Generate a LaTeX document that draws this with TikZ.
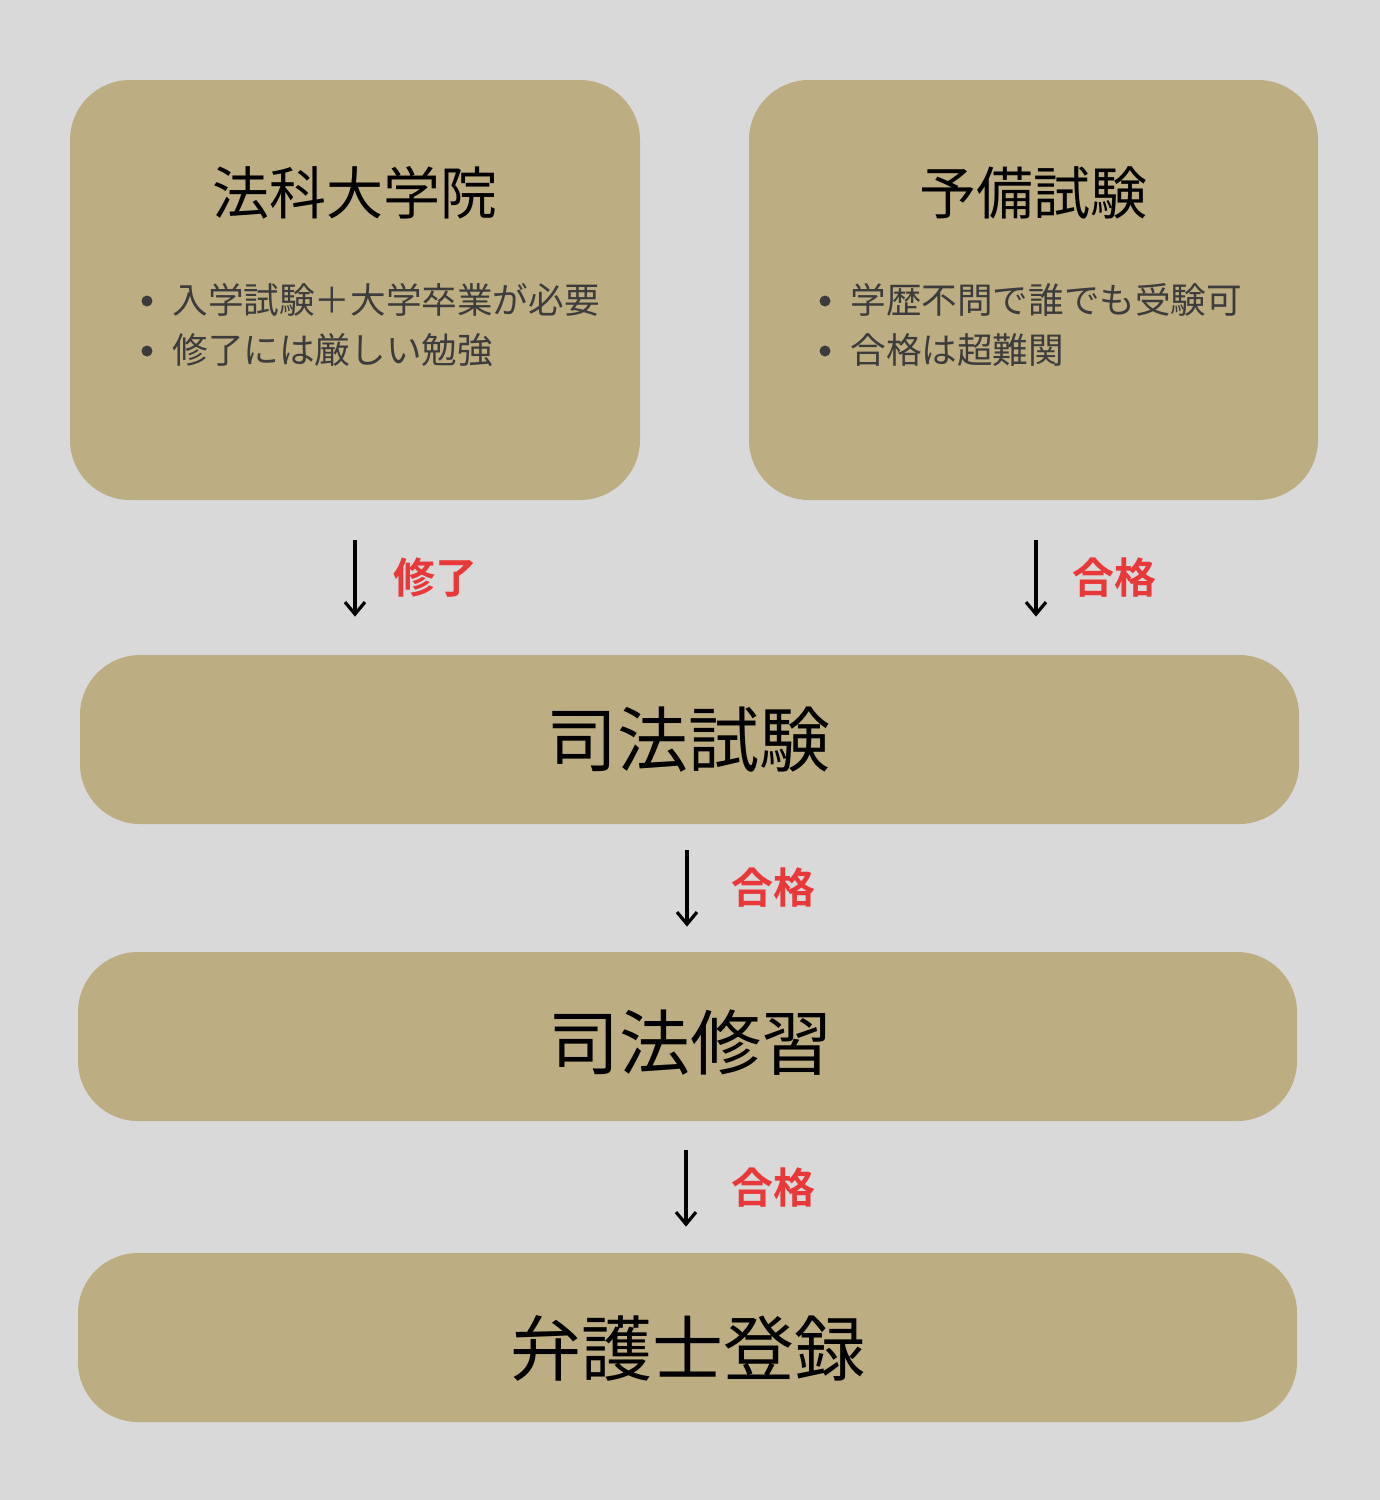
\documentclass[tikz,border=0pt]{standalone}
\usepackage{fontspec}
\setmainfont{Noto Sans CJK JP}
\newfontfamily\cjkbold{Noto Sans CJK JP Bold}
\usetikzlibrary{arrows.meta}
\definecolor{bgc}{HTML}{D9D9D9}
\definecolor{boxc}{HTML}{BCAD82}
\definecolor{labc}{HTML}{E8383A}
\definecolor{txtc}{HTML}{3C3C3C}
\tikzset{
  panel/.style={fill=boxc, draw=none, rounded corners=30pt},
  titletxt/.style={font=\fontsize{28.5pt}{32pt}\selectfont, text=black, inner sep=0pt},
  bigtxt/.style={font=\fontsize{35.5pt}{40pt}\selectfont, text=black, inner sep=0pt},
  bullettxt/.style={font=\fontsize{17.8pt}{20pt}\selectfont, text=txtc, inner sep=0pt, anchor=west},
  dot/.style={circle, fill=txtc, inner sep=0pt, minimum size=5.5pt},
  steplab/.style={font=\cjkbold\fontsize{21pt}{24pt}\selectfont, text=labc, inner sep=0pt, anchor=west},
  flowarrow/.style={draw=black, line width=1.6pt, -{Straight Barb[length=6pt,width=10pt,line width=1.6pt]}}
}
\begin{document}
\begin{tikzpicture}[x=0.5pt, y=-0.5pt]
\fill[bgc] (0,0) rectangle (1380,1500);
\useasboundingbox (0,0) rectangle (1380,1500);
% panels
\path[panel] (70,80) rectangle (640,500);
\node[inner sep=0pt, minimum width=285pt, minimum height=210pt] (b1) at (355,290) {};
\path[panel] (749,80) rectangle (1318,500);
\node[inner sep=0pt, minimum width=284.5pt, minimum height=210pt] (b2) at (1033.5,290) {};
\path[panel] (80,655) rectangle (1299,824);
\node[inner sep=0pt, minimum width=609.5pt, minimum height=84.5pt] (b3) at (689.5,739.5) {};
\path[panel] (78,952) rectangle (1297,1121);
\node[inner sep=0pt, minimum width=609.5pt, minimum height=84.5pt] (b4) at (687.5,1036.5) {};
\path[panel] (78,1253) rectangle (1297,1422);
\node[inner sep=0pt, minimum width=609.5pt, minimum height=84.5pt] (b5) at (687.5,1337.5) {};
% titles
\node[titletxt] (t1) at (355,193) {法科大学院};
\node[titletxt] (t2) at (1033,193) {予備試験};
\node[bigtxt] (t3) at (688,740) {司法試験};
\node[bigtxt] (t4) at (690,1043) {司法修習};
\node[bigtxt] (t5) at (688,1348) {弁護士登録};
% bullets
\node[dot] (d11) at (147,301) {};
\node[bullettxt] (l11) at (172,300) {入学試験＋大学卒業が必要};
\node[dot] (d12) at (147,351) {};
\node[bullettxt] (l12) at (172,350) {修了には厳しい勉強};
\node[dot] (d21) at (825,301) {};
\node[bullettxt] (l21) at (850,300) {学歴不問で誰でも受験可};
\node[dot] (d22) at (825,351) {};
\node[bullettxt] (l22) at (850,350) {合格は超難関};
% arrows
\draw[flowarrow, shorten <=20pt, shorten >=19pt] (b1.south) -- (b1.south |- b3.north);
\node[steplab] (a1) at (393,578) {修了};
\draw[flowarrow, shorten <=20pt, shorten >=19pt] ([xshift=1.25pt]b2.south) -- ([xshift=1.25pt]b2.south |- b3.north);
\node[steplab] (a2) at (1072,578) {合格};
\draw[flowarrow, shorten <=13pt, shorten >=12.5pt] ([xshift=-1.25pt]b3.south) -- ([xshift=-1.25pt]b3.south |- b4.north);
\node[steplab] (a3) at (731,888) {合格};
\draw[flowarrow, shorten <=14.5pt, shorten >=13pt] ([xshift=-0.75pt]b4.south) -- ([xshift=-0.75pt]b4.south |- b5.north);
\node[steplab] (a4) at (731,1188) {合格};
\end{tikzpicture}
\end{document}
